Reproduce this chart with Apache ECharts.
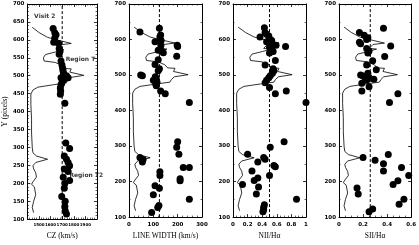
<!DOCTYPE html>
<html><head><meta charset="utf-8">
<script src="https://cdn.jsdelivr.net/npm/echarts@6/dist/echarts.min.js"></script>
<style>html,body{margin:0;padding:0;background:#fff}#c{width:419px;height:245px}</style>
</head><body><div id="c"></div>
<script>
// Brightness profile (fraction of each panel's x range) vs Y (pixels)
const profY = [635,620,607,602,590,586,575,573,568,566,559,550,541,537,529,520,519,510,501,495,487,480,475,468,460,449,420,380,340,300,285,276,267,258,249,240,229,217,204,197,190,168,150,132,118];
const profF = [0.07,0.17,0.29,0.38,0.63,0.47,0.42,0.52,0.52,0.40,0.26,0.23,0.24,0.40,0.49,0.53,0.63,0.61,0.81,0.62,0.58,0.56,0.38,0.15,0.08,0.05,0.05,0.06,0.06,0.07,0.08,0.13,0.29,0.12,0.08,0.09,0.12,0.13,0.08,0.06,0.10,0.12,0.09,0.07,0.09];

// Panel 1: CZ (km/s)
const czY = [632,620,614,605,593,590,575,569,560,541,530,521,514,507,500,494,494,494,488,480,475,466,457,448,423,312,297,276,267,258,249,240,233,217,208,199,186,163,150,135,123,114];
const czX = [1622,1636,1647,1636,1627,1669,1674,1682,1674,1690,1698,1704,1707,1712,1737,1690,1720,1751,1712,1698,1690,1684,1687,1684,1723,1731,1764,1718,1737,1751,1764,1718,1751,1709,1764,1723,1718,1696,1726,1723,1726,1737];
const czRef = 1700;

// Panel 2: line width (km/s)
const lwY = [632,621,613,608,597,594,584,580,583,570,568,563,553,543,530,518,512,500,498,495,490,485,480,475,470,455,447,423,312,297,277,268,262,255,240,240,228,217,208,202,188,181,163,150,133,127,113];
const lwX = [125,45,130,127,132,107,198,200,131,120,134,141,196,120,107,125,120,48,55,108,112,100,115,110,112,130,149,248,200,196,205,45,58,55,223,248,127,127,210,210,107,125,100,248,123,118,93];
const lwRef = 125;

// Panel 3: NII/Halpha
const niiY = [633,620,615,610,607,600,597,594,590,584,580,578,572,566,562,541,528,518,512,505,498,492,485,478,465,455,447,423,312,297,277,268,263,255,245,242,230,217,210,203,192,185,165,150,135,128,121,115];
const niiX = [0.43,0.44,0.46,0.49,0.37,0.51,0.53,0.46,0.52,0.59,0.72,0.50,0.53,0.55,0.50,0.58,0.44,0.55,0.56,0.54,0.51,0.49,0.46,0.44,0.50,0.73,0.58,1.00,0.70,0.51,0.20,0.42,0.44,0.34,0.56,0.58,0.26,0.50,0.34,0.29,0.13,0.35,0.32,0.87,0.43,0.42,0.42,0.41];
const niiRef = 0.5;

// Panel 4: SII/Halpha
const siiY = [632,620,612,605,600,592,588,582,575,568,562,552,540,528,515,505,500,497,493,490,488,485,477,467,455,447,423,276,268,260,250,240,230,217,202,192,182,165,150,136,123,115];
const siiX = [0.37,0.17,0.21,0.24,0.23,0.17,0.18,0.43,0.23,0.25,0.24,0.38,0.28,0.23,0.31,0.24,0.18,0.20,0.25,0.22,0.29,0.23,0.19,0.25,0.19,0.49,0.42,0.41,0.20,0.30,0.37,0.52,0.37,0.58,0.49,0.45,0.15,0.16,0.54,0.50,0.28,0.25];
const siiRef = 0.26;

const xNames = ['CZ (km/s)','LINE WIDTH (km/s)','NII/H\u03b1','SII/H\u03b1'];
const xMin = [1400,0,0,0];
const xMax = [2000,300,1,0.6];
const xInterval = [100,100,0.2,0.2];
const yTickStep = [50,100,100,100];
const notes = [[1458,665,'Visit 2'],[1730,546,'Region T'],[1762,222,'Region T2']];

const panelX = [czX,lwX,niiX,siiX];
const panelY = [czY,lwY,niiY,siiY];
const refs = [czRef,lwRef,niiRef,siiRef];

const lefts = [24,129,233,339];
const black = '#000';

const grid=[],xAxis=[],yAxis=[],series=[];
for(let i=0;i<4;i++){
  grid.push({left:lefts[i],top:4,width:73,height:221});
  const common = {type:'value',gridIndex:i,min:xMin[i],max:xMax[i],interval:xInterval[i],
    splitLine:{show:false},
    axisLine:{show:true,onZero:false,lineStyle:{color:black,width:1}},
    axisTick:{show:true,inside:true,length:3,lineStyle:{color:black,width:0.8}},
    minorTick:{show:true,splitNumber:i===0?5:(i===1?5:4),length:1.5,lineStyle:{color:black,width:0.6}}};
  xAxis.push(Object.assign({},common,{position:'bottom',name:xNames[i],nameLocation:'middle',nameGap:12,
    nameTextStyle:{fontFamily:'Liberation Serif',fontSize:7.5,color:black},
    axisLabel:{show:true,margin:4,fontFamily:'DejaVu Sans',fontWeight:'bold',
      fontSize: i===0?4:5.5,color:black,
      formatter:(v)=> (i===0 && (v===1400||v===2000)) ? '' : String(Math.round(v*10)/10)}}));
  xAxis.push(Object.assign({},common,{position:'top',axisLabel:{show:false}}));
  const ycommon = {type:'value',gridIndex:i,min:100,max:700,interval:yTickStep[i],
    splitLine:{show:false},
    axisLine:{show:true,onZero:false,lineStyle:{color:black,width:1}},
    axisTick:{show:true,inside:true,length:3,lineStyle:{color:black,width:0.8}},
    minorTick:{show:true,splitNumber:i===0?5:2,length:1.5,lineStyle:{color:black,width:0.6}}};
  yAxis.push(Object.assign({},ycommon,{position:'left',
    name: i===0?'Y (pixels)':'',nameLocation:'middle',nameGap:14,nameRotate:90,
    nameTextStyle:{fontFamily:'Liberation Serif',fontSize:7.5,color:black},
    axisLabel:{show:true,margin:3,fontFamily:'DejaVu Sans',fontWeight:'bold',fontSize:5.5,color:black}}));
  yAxis.push(Object.assign({},ycommon,{position:'right',axisLabel:{show:false}}));

  const xi = i*2, yi = i*2;
  series.push({type:'line',xAxisIndex:xi,yAxisIndex:yi,symbol:'none',silent:true,
    lineStyle:{color:black,width:0.8},
    data: profF.map((f,k)=>[xMin[i]+f*(xMax[i]-xMin[i]), profY[k]])});
  series.push({type:'line',xAxisIndex:xi,yAxisIndex:yi,symbol:'none',silent:true,
    lineStyle:{color:black,width:1,type:[3,2]},
    data:[[refs[i],100],[refs[i],700]]});
  series.push({type:'scatter',xAxisIndex:xi,yAxisIndex:yi,symbol:'circle',symbolSize:7,
    itemStyle:{color:black,opacity:1},
    data: panelX[i].map((x,k)=>[x,panelY[i][k]])});
}
series.push({type:'scatter',xAxisIndex:0,yAxisIndex:0,symbolSize:0,silent:true,
  data: notes,
  label:{show:true,position:'right',distance:0,formatter:(p)=>p.value[2],
    fontFamily:'DejaVu Sans',fontWeight:'bold',fontSize:6,color:black}});

const chart = echarts.init(document.getElementById('c'),null,{renderer:'canvas'});
chart.setOption({animation:false,backgroundColor:'#fff',grid,xAxis,yAxis,series});
</script></body></html>
